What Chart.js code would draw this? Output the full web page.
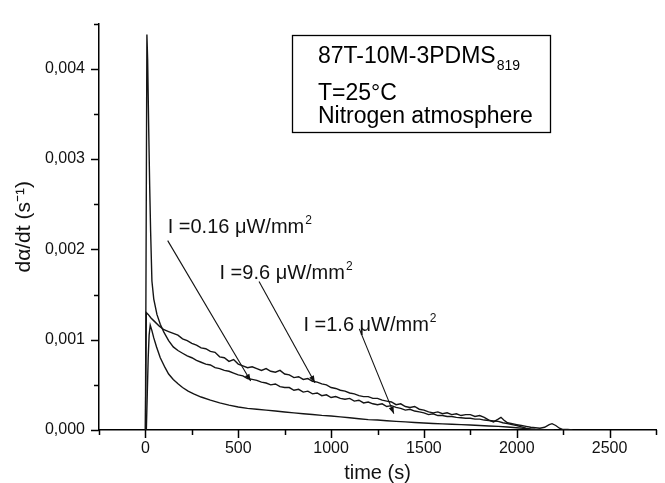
<!DOCTYPE html>
<html><head><meta charset="utf-8">
<script src="https://cdn.jsdelivr.net/npm/chart.js@4/dist/chart.umd.min.js"></script>
<style>html,body{margin:0;padding:0;background:#fff}canvas{display:block}</style>
</head><body>
<canvas id="c" width="665" height="483"></canvas>
<script>
// ---- data (time in s, rate in s^-1) ----
// I = 9.6 uW/mm2 (upper tail)
const t96 = [0,5,15,30,50,75,100,125,150,175,200,225,250,275,300,325,350,375,400,425,450,475,500,525,550,575,600,625,650,675,700,725,750,775,800,825,850,875,900,925,950,975,1000,1025,1050,1075,1100,1125,1150,1175,1200,1225,1250,1275,1300,1325,1350,1375,1400,1425,1450,1475,1500,1525,1550,1575,1600,1625,1650,1675,1700,1725,1750,1775,1800,1825,1850,1875,1900,1915,1930,1950,1975,2000,2025,2050,2075,2100,2125,2150,2175,2190,2210,2230,2250,2275,2300];
const v96 = [0,13.0e-4,12.8e-4,12.4e-4,12.0e-4,11.5e-4,11.1e-4,10.9e-4,10.7e-4,10.5e-4,10.1e-4,9.9e-4,9.6e-4,9.4e-4,9.1e-4,9.0e-4,8.7e-4,8.6e-4,8.1e-4,8.0e-4,7.6e-4,7.8e-4,7.3e-4,7.1e-4,6.9e-4,7.0e-4,6.8e-4,6.6e-4,6.8e-4,6.5e-4,6.4e-4,6.6e-4,6.2e-4,6.1e-4,5.8e-4,5.9e-4,5.6e-4,5.7e-4,5.4e-4,5.3e-4,5.1e-4,5.0e-4,4.7e-4,4.6e-4,4.4e-4,4.3e-4,4.1e-4,4.0e-4,3.8e-4,3.7e-4,3.7e-4,3.5e-4,3.5e-4,3.3e-4,3.2e-4,3.1e-4,2.8e-4,2.9e-4,2.6e-4,2.5e-4,2.6e-4,2.3e-4,2.2e-4,2.0e-4,1.9e-4,2.0e-4,1.8e-4,1.9e-4,1.7e-4,1.8e-4,1.6e-4,1.7e-4,1.7e-4,1.5e-4,1.6e-4,1.4e-4,1.1e-4,0.9e-4,1.2e-4,1.4e-4,1.1e-4,0.8e-4,0.7e-4,0.6e-4,0.5e-4,0.4e-4,0.3e-4,0.25e-4,0.2e-4,0.3e-4,0.6e-4,0.7e-4,0.5e-4,0.2e-4,0.05e-4,0.05e-4,0];
// I = 0.16 uW/mm2 (sharp initial peak)
const t016 = [0,8,12,18,23,28,35,45,62,80,100,125,150,175,200,225,250,275,300,325,350,375,400,425,450,475,500,525,550,575,600,625,650,675,700,725,750,775,800,825,850,875,900,925,950,975,1000,1025,1050,1075,1100,1125,1150,1175,1200,1225,1250,1275,1300,1325,1350,1375,1400,1425,1450,1475,1500,1525,1550,1575,1600,1625,1650,1675,1700,1725,1750,1775,1800,1825,1850,1875,1900,1925,1950,1975,2000,2025,2050,2075,2100,2125,2150];
const v016 = [0,43.8e-4,41e-4,33e-4,27e-4,22e-4,16.5e-4,14.5e-4,12.8e-4,11.7e-4,10.8e-4,9.9e-4,9.2e-4,8.8e-4,8.5e-4,8.2e-4,8.0e-4,7.7e-4,7.5e-4,7.3e-4,7.2e-4,6.9e-4,6.8e-4,6.6e-4,6.5e-4,6.3e-4,6.1e-4,6.0e-4,5.7e-4,5.6e-4,5.5e-4,5.3e-4,5.2e-4,5.0e-4,5.1e-4,4.8e-4,4.7e-4,4.7e-4,4.4e-4,4.5e-4,4.2e-4,4.3e-4,4.0e-4,4.1e-4,3.8e-4,3.9e-4,3.6e-4,3.7e-4,3.5e-4,3.4e-4,3.5e-4,3.2e-4,3.3e-4,3.0e-4,3.1e-4,2.9e-4,2.8e-4,2.9e-4,2.6e-4,2.7e-4,2.5e-4,2.4e-4,2.2e-4,2.3e-4,2.1e-4,2.0e-4,1.9e-4,1.7e-4,1.8e-4,1.6e-4,1.6e-4,1.5e-4,1.5e-4,1.4e-4,1.35e-4,1.3e-4,1.3e-4,1.2e-4,1.2e-4,1.1e-4,1.05e-4,1.0e-4,0.95e-4,0.8e-4,0.7e-4,0.6e-4,0.5e-4,0.35e-4,0.2e-4,0.1e-4,0.05e-4,0.02e-4,0];
// I = 1.6 uW/mm2 (lowest curve)
const t16 = [0,5,10,15,20,26,35,45,60,80,106,125,150,177,200,230,260,300,350,400,450,500,550,600,650,700,750,800,850,900,950,1000,1050,1100,1150,1200,1250,1300,1350,1400,1450,1500,1550,1600,1650,1700,1750,1800,1850,1900,1950,2000,2050,2100,2150,2200];
const v16 = [0,0,4e-4,8e-4,10.5e-4,11.6e-4,11.0e-4,10.2e-4,9.2e-4,8.0e-4,6.9e-4,6.2e-4,5.6e-4,5.1e-4,4.7e-4,4.3e-4,4.0e-4,3.65e-4,3.3e-4,3.0e-4,2.75e-4,2.55e-4,2.4e-4,2.3e-4,2.2e-4,2.1e-4,2.0e-4,1.9e-4,1.8e-4,1.72e-4,1.62e-4,1.55e-4,1.45e-4,1.35e-4,1.25e-4,1.15e-4,1.1e-4,1.02e-4,0.96e-4,0.9e-4,0.83e-4,0.77e-4,0.72e-4,0.68e-4,0.64e-4,0.6e-4,0.55e-4,0.5e-4,0.45e-4,0.4e-4,0.33e-4,0.25e-4,0.15e-4,0.07e-4,0.02e-4,0];

// annotation labels: text, label anchor (time, rate), arrow start and end (time, rate)
const labelTexts = ['I =0.16 \u03bcW/mm', 'I =9.6 \u03bcW/mm', 'I =1.6 \u03bcW/mm'];
const labelAnchor = [[120, 0.00226], [399, 0.001754], [851, 0.001175]];
const arrowFrom = [[120, 0.002097], [612, 0.001645], [1152, 0.00112]];
const arrowTo = [[567, 0.000542], [913, 0.000524], [1338, 0.000181]];
const boxLines = ['87T-10M-3PDMS', 'T=25\u00b0C', 'Nitrogen atmosphere'];
const boxSub = '819';

const FONT = '"Liberation Sans", Arial, Helvetica, sans-serif';
const pts = (t, v) => t.map((x, i) => ({x: x, y: v[i]}));
const lineStyle = {borderColor: '#151515', borderWidth: 1.4, pointRadius: 0, tension: 0, fill: false};

const tickMarks = {
  id: 'tickMarks',
  afterDraw(chart) {
    const ctx = chart.ctx;
    const xs = chart.scales.x, ys = chart.scales.y;
    ctx.save();
    ctx.strokeStyle = '#000';
    ctx.lineWidth = 1.5;
    xs.ticks.forEach(tk => {
      const px = Math.round(xs.getPixelForValue(tk.value)) + 0.5;
      const major = Math.round(tk.value) % 500 === 0;
      ctx.beginPath();
      ctx.moveTo(px, xs.top);
      ctx.lineTo(px, xs.top + (major ? 8 : 5));
      ctx.stroke();
    });
    ys.ticks.forEach(tk => {
      const py = Math.round(ys.getPixelForValue(tk.value)) + 0.5;
      const major = Math.round(tk.value * 2000) % 2 === 0;
      ctx.beginPath();
      ctx.moveTo(ys.right, py);
      ctx.lineTo(ys.right - (major ? 8 : 5), py);
      ctx.stroke();
    });
    ctx.restore();
  }
};

const annotations = {
  id: 'annotations',
  afterDatasetsDraw(chart) {
    const ctx = chart.ctx;
    const xs = chart.scales.x, ys = chart.scales.y;
    ctx.save();
    ctx.fillStyle = '#111';
    ctx.strokeStyle = '#111';
    for (let i = 0; i < arrowFrom.length; i++) {
      const x1 = xs.getPixelForValue(arrowFrom[i][0]), y1 = ys.getPixelForValue(arrowFrom[i][1]);
      const x2 = xs.getPixelForValue(arrowTo[i][0]), y2 = ys.getPixelForValue(arrowTo[i][1]);
      ctx.lineWidth = 1.1;
      ctx.beginPath(); ctx.moveTo(x1, y1); ctx.lineTo(x2, y2); ctx.stroke();
      const a = Math.atan2(y2 - y1, x2 - x1), L = 7, W = 2.6;
      ctx.beginPath();
      ctx.moveTo(x2, y2);
      ctx.lineTo(x2 - L * Math.cos(a) + W * Math.sin(a), y2 - L * Math.sin(a) - W * Math.cos(a));
      ctx.lineTo(x2 - L * Math.cos(a) - W * Math.sin(a), y2 - L * Math.sin(a) + W * Math.cos(a));
      ctx.closePath(); ctx.fill();
    }
    ctx.textBaseline = 'alphabetic';
    ctx.textAlign = 'left';
    for (let i = 0; i < labelTexts.length; i++) {
      const x = xs.getPixelForValue(labelAnchor[i][0]);
      const y = ys.getPixelForValue(labelAnchor[i][1]) + 7;
      ctx.font = '20px ' + FONT;
      ctx.fillText(labelTexts[i], x, y);
      const w = ctx.measureText(labelTexts[i]).width;
      ctx.font = '12px ' + FONT;
      ctx.fillText('2', x + w + 1, y - 9);
    }
    const bx = 292, by = 35, bw = 258, bh = 97;
    ctx.lineWidth = 1.3;
    ctx.strokeStyle = '#000';
    ctx.strokeRect(bx + 0.5, by + 0.5, bw, bh);
    ctx.fillStyle = '#000';
    ctx.font = '23px ' + FONT;
    ctx.fillText(boxLines[0], 318, 63);
    const w0 = ctx.measureText(boxLines[0]).width;
    ctx.fillText(boxLines[1], 318, 100);
    ctx.fillText(boxLines[2], 318, 123);
    ctx.font = '14px ' + FONT;
    ctx.fillText(boxSub, 318 + w0 + 1, 70);
    ctx.restore();
  }
};

new Chart(document.getElementById('c'), {
  type: 'line',
  data: {
    datasets: [
      Object.assign({label: 'I=9.6', data: pts(t96, v96)}, lineStyle),
      Object.assign({label: 'I=0.16', data: pts(t016, v016)}, lineStyle),
      Object.assign({label: 'I=1.6', data: pts(t16, v16)}, lineStyle)
    ]
  },
  options: {
    responsive: false,
    animation: false,
    devicePixelRatio: 1,
    layout: {padding: {top: 15, right: 1, left: 0, bottom: 0}},
    plugins: {legend: {display: false}, tooltip: {enabled: false}},
    scales: {
      x: {
        type: 'linear', min: -250, max: 2750,
        afterFit: s => { s.height = 53; },
        border: {display: true, color: '#000', width: 1.5},
        grid: {display: true, drawOnChartArea: false, drawTicks: false},
        ticks: {
          stepSize: 250, autoSkip: false, maxRotation: 0, padding: 9,
          color: '#111', font: {family: FONT, size: 16},
          callback: v => (Math.round(v) % 500 === 0 ? String(v) : '')
        },
        title: {display: true, text: 'time (s)', color: '#111', padding: 0,
          font: {family: FONT, size: 20, lineHeight: 1}}
      },
      y: {
        type: 'linear', min: 0, max: 0.0045,
        afterFit: s => { s.width = 99; },
        border: {display: true, color: '#000', width: 1.5},
        grid: {display: true, drawOnChartArea: false, drawTicks: false},
        ticks: {
          stepSize: 0.0005, autoSkip: false, padding: 14,
          color: '#111', font: {family: FONT, size: 16},
          callback: v => (Math.round(v * 2000) % 2 === 0 ? v.toFixed(3).replace('.', ',') : '')
        },
        title: {display: true, text: 'd\u03b1/dt (s\u207b\u00b9)', color: '#111', padding: {top: 14},
          font: {family: FONT, size: 21, lineHeight: 1}}
      }
    }
  },
  plugins: [tickMarks, annotations]
});
</script>
</body></html>
